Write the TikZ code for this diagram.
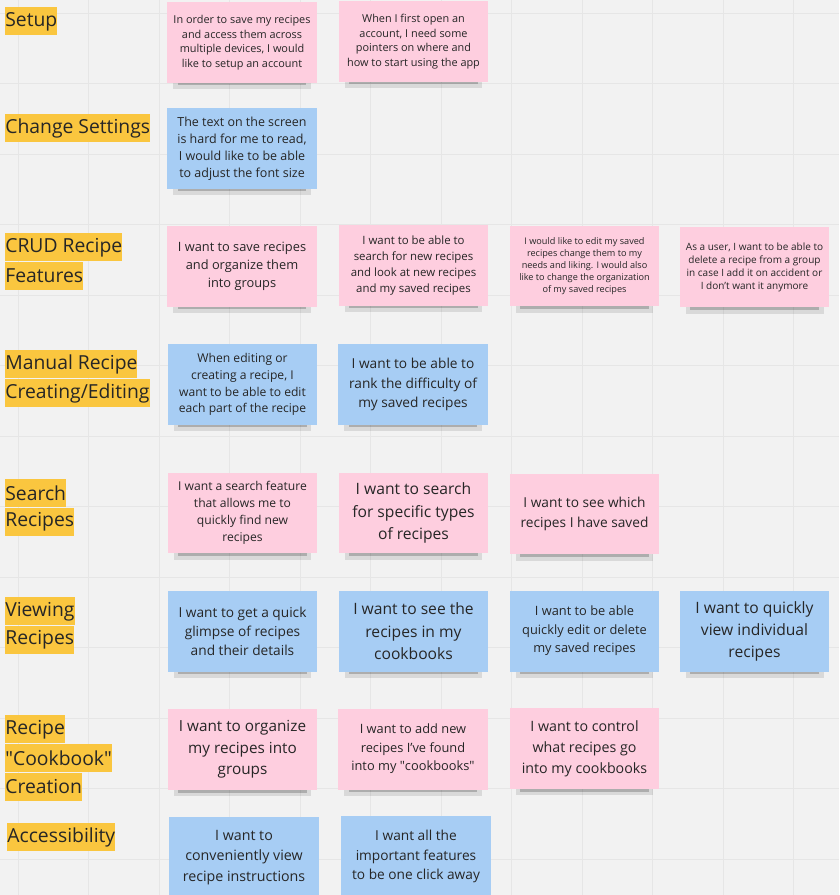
\documentclass[tikz,border=0pt]{standalone}
\usepackage{fontspec}
\setmainfont{Open Sans}
\usetikzlibrary{shadows}
\definecolor{board}{HTML}{F2F2F2}
\definecolor{gridgray}{HTML}{E6E6E6}
\definecolor{notepink}{HTML}{FECEDF}
\definecolor{noteblue}{HTML}{A7CDF4}
\definecolor{marker}{HTML}{FAC63F}
\definecolor{ink}{HTML}{262626}
\newcommand{\nsize}[2]{\fontsize{#1}{#2}\selectfont}

\begin{document}
\begin{tikzpicture}[x=0.02cm,y=-0.02cm]

\tikzset{note/.style = {shape=rectangle,inner sep=0pt,minimum width=3cm,minimum height=1.62cm,
  align=center,text=ink,
  drop shadow={shadow scale=0.92,shadow xshift=0cm,shadow yshift=-0.21cm,opacity=0.1,fill=black},
  drop shadow={shadow scale=0.86,shadow xshift=0cm,shadow yshift=-0.19cm,opacity=0.2,fill=black}}}
\tikzset{pink/.style = {note,fill=notepink}}
\tikzset{blue/.style = {note,fill=noteblue}}
\tikzset{hl/.style = {fill=marker,text=ink,inner xsep=0pt,inner ysep=0pt,minimum height=0.56cm,
  anchor=north west,font=\nsize{11pt}{13pt}}}

\useasboundingbox (0,0) rectangle (839,895);
\clip (0,0) rectangle (839,895);
\fill[board] (0,0) rectangle (839,895);
% grid
\foreach \gx in {0,...,11}
  \draw[gridgray,line width=0.5pt] ({18+70.5*\gx},0) -- ({18+70.5*\gx},895);
\foreach \gy in {0,...,12}
  \draw[gridgray,line width=0.5pt] (0,{13+70.5*\gy}) -- (839,{13+70.5*\gy});

% labels
\node[hl] (lSetup) at (5,7) {Setup};
\node[hl] (lSettings) at (5,114) {Change Settings};
\node[hl] (lCrudA) at (5,233) {CRUD Recipe~};
\node[hl] (lCrudB) at (lCrudA.south west) {Features};
\node[hl] (lManualA) at (5,350) {Manual Recipe~};
\node[hl] (lManualB) at (lManualA.south west) {Creating/Editing};
\node[hl] (lSearchA) at (5,479) {Search~};
\node[hl] (lSearchB) at (lSearchA.south west) {Recipes};
\node[hl] (lViewA) at (5,597) {Viewing~};
\node[hl] (lViewB) at (lViewA.south west) {Recipes};
\node[hl] (lCookA) at (5,715) {Recipe~};
\node[hl] (lCookB) at (lCookA.south west) {\textquotedbl Cookbook\textquotedbl};
\node[hl] (lCookC) at (lCookB.south west) {Creation};
\node[hl] (lAccess) at (7,823) {Accessibility};

% notes
\node[pink,font=\nsize{6.2pt}{8.3pt}] (setupA) at (242,42.5)
  {In order to save my recipes\\and access them across\\multiple devices, I would\\like to setup an account};
\node[pink,font=\nsize{6.2pt}{8.3pt}] (setupB) at (413.5,41.5)
  {When I first open an\\account, I need some\\pointers on where and\\how to start using the app};

\node[blue,font=\nsize{7.1pt}{9.6pt}] (settingsA) at (242,148.5)
  {The text on the screen\\is hard for me to read,\\I would like to be able\\to adjust the font size};

\node[pink,font=\nsize{7.3pt}{10.1pt}] (crudA) at (242,266.5)
  {I want to save recipes\\and organize them\\into groups};
\node[pink,font=\nsize{6.5pt}{9.1pt}] (crudB) at (413.5,265.5)
  {I want to be able to\\search for new recipes\\and look at new recipes\\and my saved recipes};
\node[pink,font=\nsize{5.2pt}{6.8pt}] (crudC) at (584.5,266)
  {I would like to edit my saved\\recipes change them to my\\needs and liking. I would also\\like to change the organization\\of my saved recipes};
\node[pink,font=\nsize{5.7pt}{7.4pt}] (crudD) at (754.5,267)
  {As a user, I want to be able to\\delete a recipe from a group\\in case I add it on accident or\\I don't want it anymore};

\node[blue,font=\nsize{6.9pt}{9.6pt}] (manualA) at (242.5,384.5)
  {When editing or\\creating a recipe, I\\want to be able to edit\\each part of the recipe};
\node[blue,font=\nsize{7.8pt}{11.1pt}] (manualB) at (413,384.5)
  {I want to be able to\\rank the difficulty of\\my saved recipes};

\node[pink,font=\nsize{6.9pt}{9.6pt}] (searchA) at (242.5,513)
  {I want a search feature\\that allows me to\\quickly find new\\recipes};
\node[pink,font=\nsize{8.9pt}{12.75pt}] (searchB) at (413.5,513)
  {I want to search\\for specific types\\of recipes};
\node[pink,font=\nsize{7.8pt}{11.1pt}] (searchC) at (584.5,514)
  {I want to see which\\recipes I have saved};

\node[blue,font=\nsize{7.8pt}{10.8pt}] (viewA) at (242.5,631.5)
  {I want to get a quick\\glimpse of recipes\\and their details};
\node[blue,font=\nsize{8.9pt}{12.75pt}] (viewB) at (413.5,631.5)
  {I want to see the\\recipes in my\\cookbooks};
\node[blue,font=\nsize{7.3pt}{10.5pt}] (viewC) at (584.5,631)
  {I want to be able\\quickly edit or delete\\my saved recipes};
\node[blue,font=\nsize{8.9pt}{12.5pt}] (viewD) at (754.5,631.5)
  {I want to quickly\\view individual\\recipes};

\node[pink,font=\nsize{8.7pt}{12.3pt}] (cookA) at (242.5,749.5)
  {I want to organize\\my recipes into\\groups};
\node[pink,font=\nsize{7.3pt}{10.5pt}] (cookB) at (413,749)
  {I want to add new\\recipes I've found\\into my \textquotedbl cookbooks\textquotedbl};
\node[pink,font=\nsize{8.1pt}{11.9pt}] (cookC) at (584.5,748.5)
  {I want to control\\what recipes go\\into my cookbooks};

\node[blue,font=\nsize{8.1pt}{11.6pt}] (accA) at (244,857.5)
  {I want to\\conveniently view\\recipe instructions};
\node[blue,font=\nsize{7.8pt}{11.1pt}] (accB) at (416,856.5)
  {I want all the\\important features\\to be one click away};

\end{tikzpicture}
\end{document}
